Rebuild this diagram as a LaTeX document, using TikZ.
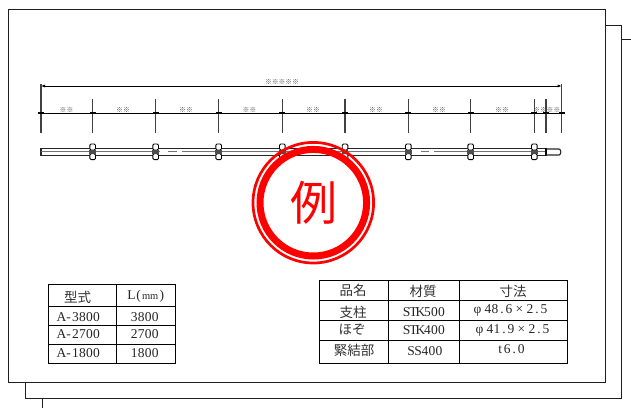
\documentclass[tikz,border=0pt]{standalone}
\usepackage{fontspec}
\setmainfont{Liberation Serif}
\newfontfamily\cjkf{Noto Sans CJK JP}[Scale=1]
\makeatletter
\def\monoloop#1{\ifx#1\relax\else\hbox to 7pt{\hss#1\hss}\expandafter\monoloop\fi}
\def\mono#1{\hbox{\monoloop#1\relax}}
\def\fw#1{\hbox to 14pt{\hss#1\hss}}
\makeatother
\definecolor{inkc}{gray}{0.12}
\definecolor{stamp}{RGB}{255,0,0}
\usetikzlibrary{arrows.meta}
\tikzset{
  sheet/.style={draw=inkc,line width=1pt},
  tbl/.style={draw=black,line width=1pt},
  dim/.style={draw=black,line width=1pt},
  tick/.style={draw=inkc!85,line width=1.1pt},
  dlabel/.style={font=\cjkf\fontsize{6.8}{7}\selectfont,text=black!72,inner sep=0pt},
  jp/.style={font=\cjkf\fontsize{13.5}{14}\selectfont\color{black!80},inner sep=0pt},
  lat/.style={font=\fontsize{13.5}{14}\selectfont\color{black!85},inner sep=0pt},
  clampbox/.style={draw=black,line width=0.9pt,fill=white,rounded corners=1.2pt},
  pipeline/.style={draw=black!85,line width=1.1pt},
  midline/.style={draw=black!55,line width=0.9pt},
}
\begin{document}
\begin{tikzpicture}[x=1pt,y=-1pt]
\useasboundingbox (0,0) rectangle (631,408);
% stacked sheets
\draw[sheet] (8,9.5) rectangle (605,382);
\draw[sheet] (25,382) -- (25,398) -- (621.7,398) -- (621.7,25) -- (605,25);
\draw[sheet] (42.7,398) -- (42.7,408);
\draw[sheet] (621.7,39.5) -- (631,39.5);
% overall dimension
\coordinate (L0) at (41,86);
\coordinate (R0) at (561.7,86);
\draw[dim,{Latex[length=4pt,width=3pt]}-{Latex[length=4pt,width=3pt]}] (L0) -- (R0);
\node[dlabel] (total) at (282,81.5) {※※※※※};
% extension lines
\draw[tick] (41,84) -- (41,133);
\draw[tick] (561.7,84) -- (561.7,133);
\foreach \x/\n in {92.7/a,155.7/b,218.7/c,282.3/d,345/e,408.3/f,470.7/g,534.3/h,546/i}
  \draw[tick] (\x,99) -- (\x,133);
% chain dimension
\draw[dim] (41,113.3) -- (561.7,113.3);
\foreach \x in {41,92.7,155.7,218.7,282.3,345,408.3,470.7,534.3,546,561.7}{
  \fill[black] (\x-3,112.2) rectangle (\x+3,114.4);
}
\node[dlabel] (s1) at (66.5,110) {※※};
\node[dlabel] (s2) at (123,110) {※※};
\node[dlabel] (s3) at (186,110) {※※};
\node[dlabel] (s4) at (249.5,110) {※※};
\node[dlabel] (s5) at (313,110) {※※};
\node[dlabel] (s6) at (376,110) {※※};
\node[dlabel] (s7) at (439,110) {※※};
\node[dlabel] (s8) at (502,110) {※※};
\node[dlabel] (s9) at (540,110) {※※};
\node[dlabel] (s10) at (553.5,110) {※※};
% pipe
\draw[pipeline] (41,148.3) rectangle (545.5,155.3);
\draw[midline] (41,151.8) -- (160,151.8);
\draw[midline] (182,151.8) -- (412,151.8);
\draw[midline] (434,151.8) -- (545,151.8);
\draw[midline] (168,151.8) -- (177,151.8);
\draw[midline] (421,151.8) -- (429,151.8);
\draw[draw=black,line width=1.6pt] (545.7,147.5) -- (545.7,156);
\draw[pipeline] (546,149) -- (559,149) to[out=0,in=0,looseness=1] (559,155) -- (546,155);
% clamps
\foreach \x in {92.7,155.7,218.7,282.3,345,408.3,470.7,534.3}{
  \draw[clampbox] (\x-2.8,144) rectangle (\x+2.8,150);
  \draw[clampbox] (\x-2.8,153.7) rectangle (\x+2.8,159.6);
  \fill[black!70] (\x-3.3,149.7) rectangle (\x+3.3,154);
}
% left table
\draw[tbl] (48.3,284) rectangle (175,363.3);
\draw[tbl] (116,284) -- (116,363.3);
\foreach \y in {306.7,325.7,344} \draw[tbl] (48.3,\y) -- (175,\y);
\node[jp] (t1a) at (77.7,297.5) {型式};
\node[lat] (t1b) at (146.7,296) {\hbox{\mono{L(}\hbox{\fontsize{10.5}{11}\selectfont mm}\mono{)}}};
\node[lat] (t2a) at (79,316.7) {\mono{A-3800}};
\node[lat] (t2b) at (144.7,316.7) {\mono{3800}};
\node[lat] (t3a) at (79,334.3) {\mono{A-2700}};
\node[lat] (t3b) at (144.7,334.3) {\mono{2700}};
\node[lat] (t4a) at (79,353) {\mono{A-1800}};
\node[lat] (t4b) at (144.7,353) {\mono{1800}};
% right table
\draw[tbl] (319.3,280.7) rectangle (567.7,363.3);
\draw[tbl] (388,280.7) -- (388,363.3);
\draw[tbl] (459.7,280.7) -- (459.7,363.3);
\foreach \y in {300.3,320.7,340.7} \draw[tbl] (319.3,\y) -- (567.7,\y);
\node[jp] (h1) at (353,290) {品名};
\node[jp] (h2) at (423,291) {材質};
\node[jp] (h3) at (513,291) {寸法};
\node[jp] (r1a) at (353,312) {支柱};
\node[lat] (r1b) at (424,312) {\mono{STK500}};
\node[lat] (r1c) at (509,310.7) {\hbox{\fw{φ}\mono{48.6}\fw{×}\mono{2.5}}};
\node[jp] (r2a) at (352,330) {ほぞ};
\node[lat] (r2b) at (424,330.5) {\mono{STK400}};
\node[lat] (r2c) at (511,330) {\hbox{\fw{φ}\mono{41.9}\fw{×}\mono{2.5}}};
\node[jp] (r3a) at (354,350) {緊結部};
\node[lat] (r3b) at (425,351) {\mono{SS400}};
\node[lat] (r3c) at (510.7,349) {\mono{t6.0}};
% stamp
\coordinate (st) at (313.3,202.7);
\draw[stamp,line width=2.7pt] (st) circle (60.3);
\draw[stamp,line width=7pt] (st) circle (53.3);
\node[font=\cjkf\fontsize{47}{48}\selectfont,text=stamp,inner sep=0pt] (rei) at (313.5,203) {例};
\end{tikzpicture}
\end{document}
